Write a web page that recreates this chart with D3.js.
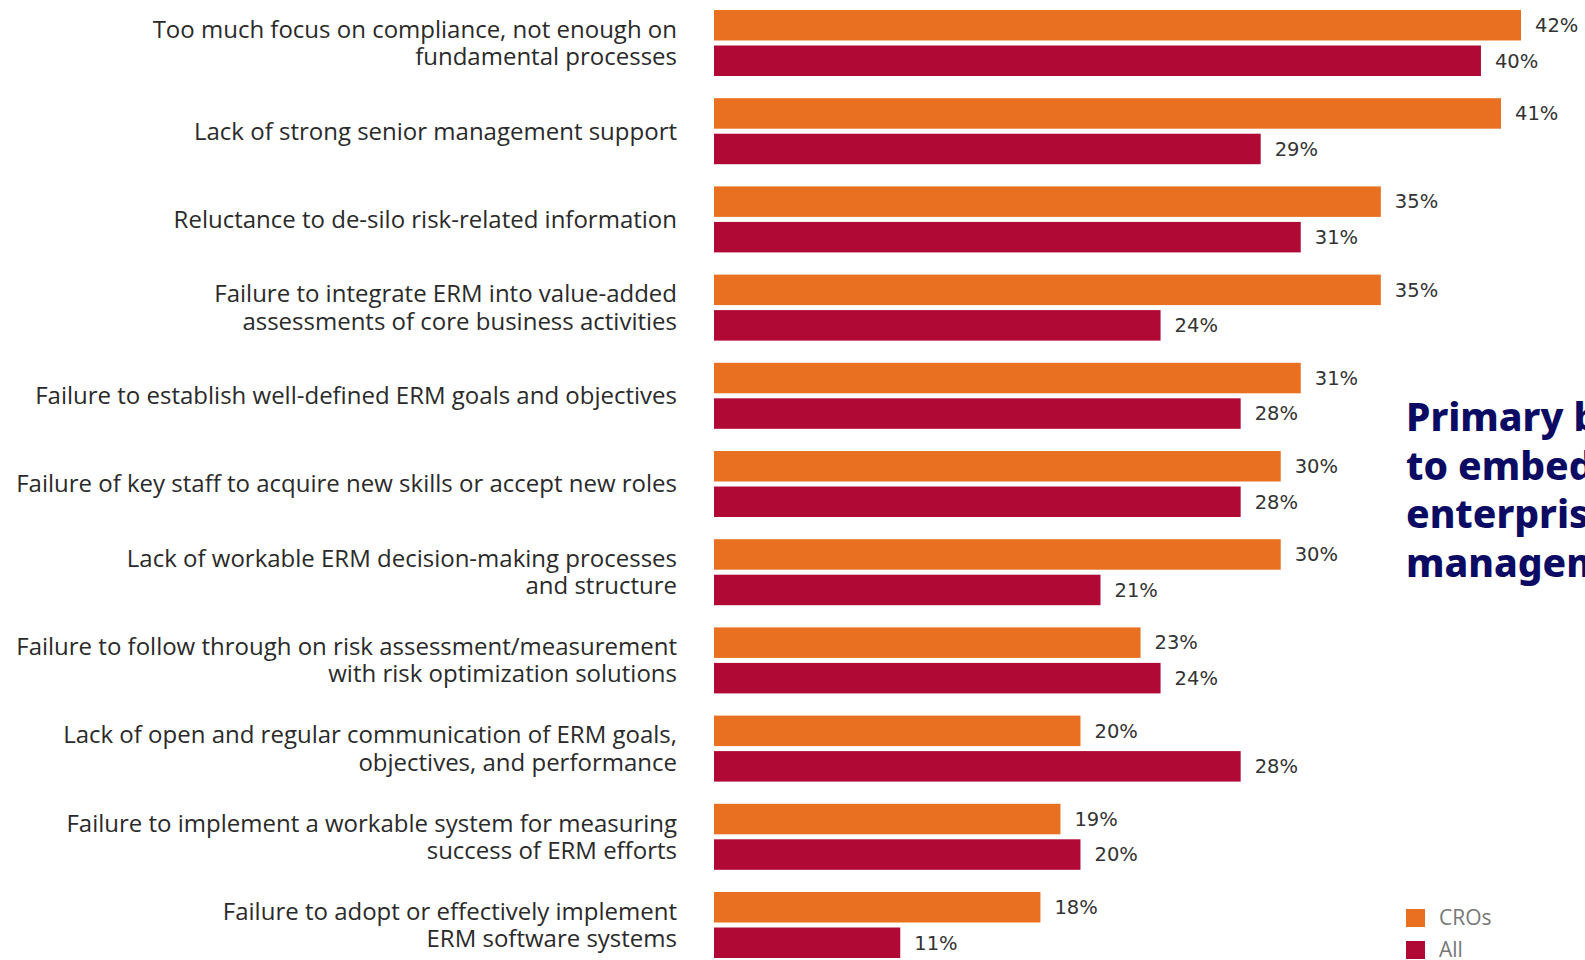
<!DOCTYPE html>
<html><head><meta charset="utf-8">
<script src="https://cdn.jsdelivr.net/npm/d3@7"></script>
<style>html,body{margin:0;padding:0;background:#fff;overflow:hidden}</style>
</head><body>
<script>
const categories = [
  ["Too much focus on compliance, not enough on", "fundamental processes"],
  ["Lack of strong senior management support"],
  ["Reluctance to de-silo risk-related information"],
  ["Failure to integrate ERM into value-added", "assessments of core business activities"],
  ["Failure to establish well-defined ERM goals and objectives"],
  ["Failure of key staff to acquire new skills or accept new roles"],
  ["Lack of workable ERM decision-making processes", "and structure"],
  ["Failure to follow through on risk assessment/measurement", "with risk optimization solutions"],
  ["Lack of open and regular communication of ERM goals,", "objectives, and performance"],
  ["Failure to implement a workable system for measuring", "success of ERM efforts"],
  ["Failure to adopt or effectively implement", "ERM software systems"]
];
const seriesNames = ["CROs", "All"];
const crosValues = [42, 41, 35, 35, 31, 30, 30, 23, 20, 19, 18];
const allValues  = [40, 29, 31, 24, 28, 28, 21, 24, 28, 20, 11];
const titleLines = ["Primary barriers", "to embedding", "enterprise risk", "management"];

const W = 1585, H = 960;
const colors = {CROs: "#E97021", All: "#B00936"};
const svg = d3.select("body").append("svg").attr("width", W).attr("height", H);

const keys = categories.map((c, i) => "c" + i);
const barLeft = 714;
const x = d3.scaleLinear().domain([0, 42]).range([680, 1521]);
const y = d3.scaleBand().domain(keys).range([10, 958]).paddingInner(0.2517).paddingOuter(0);
const ySub = d3.scaleBand().domain(seriesNames).range([0, y.bandwidth()]).paddingInner(0.141).paddingOuter(0);

const rows = categories.map((c, i) => ({key: keys[i], lines: c, vals: [
  {s: "CROs", v: crosValues[i]}, {s: "All", v: allValues[i]}]}));

const g = svg.selectAll("g.row").data(rows).join("g").attr("class", "row")
  .attr("transform", d => `translate(0,${y(d.key)})`);

g.selectAll("rect").data(d => d.vals).join("rect")
  .attr("x", barLeft).attr("y", d => ySub(d.s))
  .attr("width", d => x(d.v) - barLeft).attr("height", ySub.bandwidth())
  .attr("fill", d => colors[d.s]);

g.selectAll("text.val").data(d => d.vals).join("text").attr("class", "val")
  .attr("x", d => x(d.v) + 14).attr("y", d => ySub(d.s) + ySub.bandwidth() / 2)
  .attr("dy", "0.35em")
  .attr("font-family", "'DejaVu Sans', sans-serif").attr("font-size", 19.5).attr("fill", "#333")
  .text(d => d.v + "%");

const lh = 27.3;
g.each(function(d) {
  const n = d.lines.length;
  const t = d3.select(this).append("text")
    .attr("text-anchor", "end").attr("font-family", "'Open Sans', sans-serif")
    .attr("font-size", 24).attr("fill", "#2a2a2a");
  d.lines.forEach((line, j) => {
    t.append("tspan").attr("x", 677)
      .attr("y", y.bandwidth() / 2 + (j - (n - 1) / 2) * lh)
      .attr("dy", "0.35em").text(line);
  });
});

const title = svg.append("text").attr("font-family", "'Noto Sans', sans-serif")
  .attr("font-weight", 800).attr("font-size", 39).attr("fill", "#0B0B63");
titleLines.forEach((l, j) => {
  title.append("tspan").attr("x", 1406).attr("y", 431 + j * 48.5).text(l);
});

const leg = svg.selectAll("g.leg").data(seriesNames).join("g").attr("class", "leg")
  .attr("transform", (d, i) => `translate(1406,${909 + i * 32})`);
leg.append("rect").attr("width", 19).attr("height", 18).attr("fill", d => colors[d]);
leg.append("text").attr("x", 33).attr("y", 9).attr("dy", "0.35em")
  .attr("font-family", "'Open Sans', sans-serif").attr("font-size", 21).attr("fill", "#777")
  .text(d => d);
</script>
</body></html>
